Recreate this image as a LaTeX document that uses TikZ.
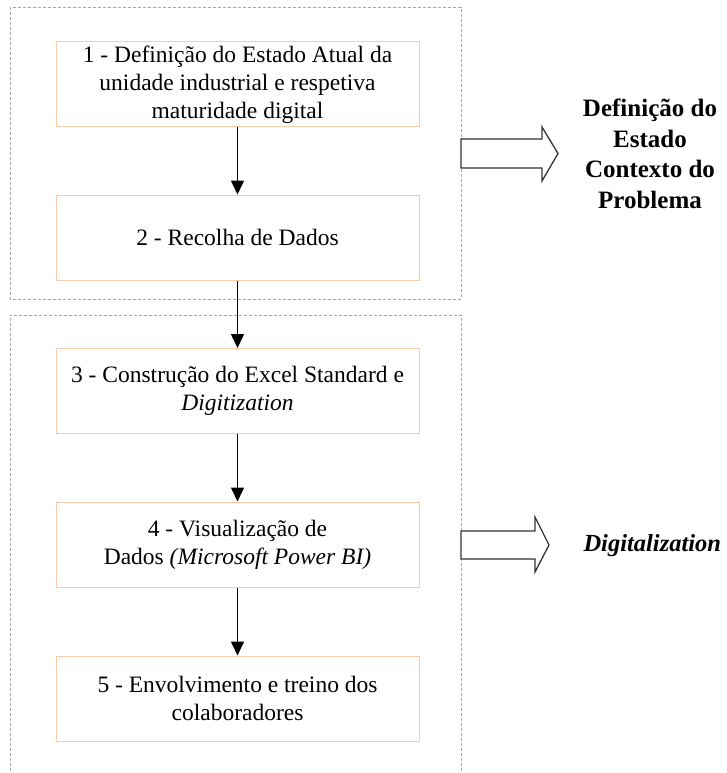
\documentclass[tikz,border=0pt]{standalone}
\usepackage{fontspec}
\setmainfont{Liberation Serif}
\usetikzlibrary{arrows.meta}
\definecolor{boxorange}{HTML}{F8CBAD}
\definecolor{dashgray}{HTML}{A6A6A6}
\tikzset{
  stepbox/.style={draw=boxorange, line width=1pt, minimum width=363pt, minimum height=85pt,
    align=center, font=\fontsize{23.5}{28}\selectfont, inner sep=0pt},
  flow/.style={line width=1.6pt, -{Triangle[width=13pt,length=14pt]}},
  group/.style={draw=dashgray, line width=0.9pt, dash pattern=on 3pt off 2pt},
  blockarrow/.style={draw=black!80, line width=1.3pt, fill=white, line join=miter},
  sidelabel/.style={align=center, font=\fontsize{25}{30.5}\selectfont\bfseries}
}
\begin{document}
\begin{tikzpicture}[x=1pt,y=-1pt]
\useasboundingbox (0,0) rectangle (726,773);
% groups
\draw[group] (10,7) rectangle (461,299);
\draw[group] (10,776) -- (10,315) -- (461,315) -- (461,776);
% steps
\node[stepbox] (s1) at (237.5,84.5) {1 - Definição do Estado Atual da\\unidade industrial e respetiva\\maturidade digital};
\node[stepbox] (s2) at (237.5,237.5) {2 - Recolha de Dados};
\node[stepbox] (s3) at (237.5,391) {3 - Construção do Excel Standard e\\\textit{Digitization}};
\node[stepbox] (s4) at (237.5,544.5) {4 - Visualização de\\Dados \textit{(Microsoft Power BI)}};
\node[stepbox] (s5) at (237.5,698.5) {5 - Envolvimento e treino dos\\colaboradores};
\draw[flow] (s1) -- (s2);
\draw[flow] (s2) -- (s3);
\draw[flow] (s3) -- (s4);
\draw[flow] (s4) -- (s5);
% block arrows
\draw[blockarrow] (461,139) -- (542,139) -- (542,127) -- (558,153.5) -- (542,181) -- (542,168) -- (461,168) -- cycle;
\draw[blockarrow] (461,531) -- (535,531) -- (535,517) -- (549,545) -- (535,572) -- (535,559) -- (461,559) -- cycle;
% side labels
\node[sidelabel] (l1) at (650,154) {Definição do\\Estado\\Contexto do\\Problema};
\node[sidelabel, anchor=west, font=\fontsize{24.5}{30.5}\selectfont\bfseries\itshape] (l2) at (580,546) {Digitalization};
\end{tikzpicture}
\end{document}
